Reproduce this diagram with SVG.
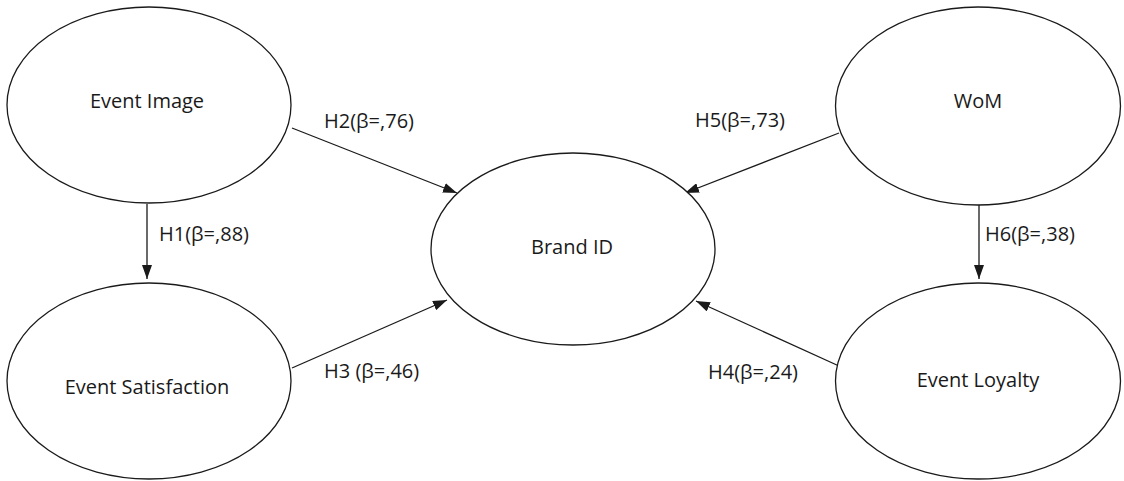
<svg xmlns="http://www.w3.org/2000/svg" width="1124" height="481" viewBox="0 0 1124 481">
<style>
.node ellipse{fill:#fff;stroke:#1a1a1a;stroke-width:1.3}
text{font-family:"Open Sans","Noto Sans","Liberation Sans",sans-serif;font-size:20px;fill:#1a1a1a}
.n{text-anchor:middle}
.edge{stroke:#1a1a1a;stroke-width:1.3;fill:none;marker-end:url(#ah)}
</style>
<defs>
<marker id="ah" viewBox="0 0 14 10" refX="14" refY="5" markerWidth="14" markerHeight="10" markerUnits="userSpaceOnUse" orient="auto">
<path d="M0,0 L14,5 L0,10 Z" fill="#1a1a1a"/>
</marker>
</defs>
<rect width="1124" height="481" fill="#fff"/>
<g id="connectors">
<line class="edge" x1="147" y1="204" x2="147" y2="279"/>
<line class="edge" x1="979" y1="205" x2="979" y2="279"/>
<line class="edge" x1="292" y1="128" x2="457" y2="193"/>
<line class="edge" x1="292" y1="368" x2="447" y2="300"/>
<line class="edge" x1="839" y1="133" x2="685" y2="193"/>
<line class="edge" x1="839" y1="366" x2="696" y2="301"/>
<text x="159" y="241">H1(β=,88)</text>
<text x="985" y="241">H6(β=,38)</text>
<text x="324" y="128">H2(β=,76)</text>
<text x="324" y="378">H3 (β=,46)</text>
<text x="695" y="127">H5(β=,73)</text>
<text x="708" y="379">H4(β=,24)</text>
</g>
<g id="event-image" class="node">
<ellipse cx="149" cy="105" rx="142" ry="98"/>
<text class="n" x="147" y="108">Event Image</text>
</g>
<g id="event-satisfaction" class="node">
<ellipse cx="149" cy="381" rx="142" ry="98"/>
<text class="n" x="147" y="394">Event Satisfaction</text>
</g>
<g id="brand-id" class="node">
<ellipse cx="573" cy="249" rx="142" ry="96"/>
<text class="n" x="572" y="254">Brand ID</text>
</g>
<g id="wom" class="node">
<ellipse cx="978" cy="106" rx="142.5" ry="99"/>
<text class="n" x="978" y="108">WoM</text>
</g>
<g id="event-loyalty" class="node">
<ellipse cx="978" cy="381" rx="142.5" ry="98"/>
<text class="n" x="978" y="387">Event Loyalty</text>
</g>
</svg>
